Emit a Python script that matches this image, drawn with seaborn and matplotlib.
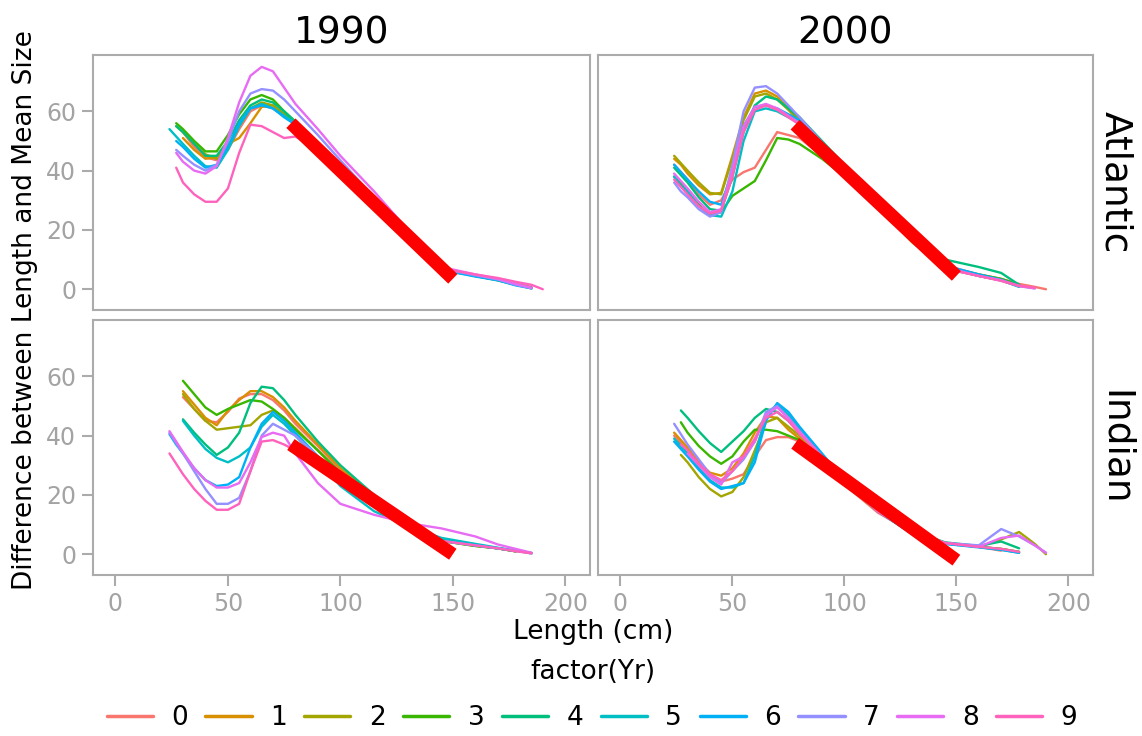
import numpy as np
import pandas as pd
import matplotlib
matplotlib.use("Agg")
import matplotlib.pyplot as plt
import seaborn as sns
from matplotlib.lines import Line2D

sns.set_theme(style="white")
plt.rcParams["font.family"] = ["DejaVu Sans"]
plt.rcParams["text.color"] = "black"
plt.rcParams["axes.labelcolor"] = "black"

N = np.nan

# ---------------- data ----------------
LENGTH = [24, 27, 30, 35, 40, 45, 50, 55, 60, 65, 70, 75, 80, 90, 100, 115, 130, 145, 160, 170, 178, 185, 190]
YEARS = ["0", "1", "2", "3", "4", "5", "6", "7", "8", "9"]
COL_LABELS = ["1990", "2000"]
ROW_LABELS = ["Atlantic", "Indian"]
PALETTE = ["#F8766D", "#D89000", "#A3A500", "#39B600", "#00BF7D",
           "#00BFC4", "#00B0F6", "#9590FF", "#E76BF3", "#FF62BC"]

ATLANTIC_1990 = [
    [N, N, 53, 48, 44.5, 43.5, 47, 54, 60, 62, 61, 58.5, 56, 49, 41.5, 30, 18.5, 7, 4.5, 3.2, 1.8, 0.8, N],
    [N, N, 51, 47, 44, 44.5, 49, 51, 56, 61.5, 62, 59, 56, 49, 41.5, 30, 18.5, 7, 4.5, 3.2, 1.8, N, N],
    [N, 55, 53, 49, 45.5, 44, 48, 55, 61, 63, 62, 59, 56, 49, 41.5, 30, 18.5, 7, 4.5, 3.2, 1.8, 0.5, N],
    [N, 56, 54, 50, 46.5, 46.5, 52, 59, 64, 65.5, 64, 60, 56.5, 49.5, 42, 30, 18.5, 7, 4.5, 3, 1.5, N, N],
    [N, 55, 53, 49, 45, 45, 50, 57, 62, 64, 63, 60, 56.5, 49.5, 41.5, 30, 18.5, 7, 4.5, 3.2, 1.5, 0.3, N],
    [54, 51.5, 49, 45, 41.5, 41, 47, 55, 61, 62.5, 61, 58.5, 56, 49, 41, 29.5, 18, 6.5, 4.5, 3.2, 1.5, 0.5, N],
    [N, 50, 48, 44, 41, 42, 48, 56, 61, 62, 61, 58, 55.5, 48.5, 41, 29.5, 18, 6.5, 4.3, 3, 1.3, 0.3, N],
    [N, 47, 45, 42, 40, 42, 50, 60, 66, 67.5, 67, 64, 60, 52, 43.5, 31, 19, 7, 4.7, 3.3, 1.5, 0.3, N],
    [N, 46, 43, 40, 39, 41.5, 51, 63, 72, 75, 73.5, 68, 62.5, 54, 45, 33, 20, 7.5, 5, 3.5, 1.8, 0.5, N],
    [N, 41, 36, 32, 29.5, 29.5, 34, 46, 55.5, 55, 53, 51, 51.5, 47, 40, 29.5, 18, 7, 5, 3.8, 2.5, 1.5, 0],
]
ATLANTIC_2000 = [
    [42, 39.5, 37, 32, 28.5, 30, 37, 39.5, 41, 47, 53, 52, 51, 45, 38, 28, 17, 8, 5, 3.5, 1.8, 0.8, 0],
    [44, 42, 39, 35, 32, 32.5, 45, 58, 66, 67, 65, 61, 57, 48.5, 40, 28.5, 16.5, 7.5, 4.5, 3, 1, N, N],
    [45, 42.5, 40, 36, 32.5, 32, 44, 57, 65, 66, 64, 60.5, 56.5, 48, 39.5, 28, 16, 7, 4.5, 3, 1, N, N],
    [38, 35.5, 33, 28.5, 25, 26, 31.5, 34, 36.5, 43.5, 51, 50.5, 49, 44, 38, 28, 17, 7.5, 5, 3.5, 1.5, N, N],
    [41, 38.5, 36, 31, 27, 26.5, 38, 53, 62, 65, 64, 61, 58, 50, 42, 30.5, 19, 10, 7.5, 5.5, 1.5, N, N],
    [38, 35, 33, 28, 25, 24.5, 33, 50, 60, 61, 60, 58, 56, 48.5, 40, 29, 17, 7.5, 4.5, 3, 0.8, N, N],
    [42, 39.5, 37, 33, 29.5, 28.5, 40, 55, 61.5, 62, 61, 59, 57, 49.5, 41.5, 30, 18, 8, 5, 3.2, 1, N, N],
    [36, 33, 31, 27, 24.5, 26, 42, 60, 68, 68.5, 66, 62, 58, 49.5, 41, 29.5, 17.5, 7.5, 4.5, 3, 1, 0.3, N],
    [39, 36.5, 34, 29.5, 26, 27, 40, 55, 61.5, 62.5, 61, 58.5, 56, 48.5, 40, 29, 17, 7, 4.5, 3, 1.2, 0.3, N],
    [37, 34.5, 32, 28, 25.5, 26.5, 38, 53, 60.5, 62, 60.5, 58, 55.5, 48, 39.5, 28.5, 16.5, 7, 4.5, 2.8, 1.1, 0.5, N],
]
INDIAN_1990 = [
    [N, N, 53, 49, 45, 44.5, 48, 52.5, 54, 54, 52, 48.5, 44, 36.5, 28.5, 19, 10, 5, 3, 2, 1, N, N],
    [N, N, 55, 50.5, 46, 43.5, 48.5, 52, 55, 55, 53, 49.5, 45, 37, 29, 19.5, 10.5, 5, 3, 2, 1, N, N],
    [N, N, 54, 49, 45, 42, 42.5, 43, 43.5, 47, 48.5, 46, 42.5, 35, 27.5, 18.5, 9.5, 4.5, 2.8, 2, 1, N, N],
    [N, N, 58.5, 54, 49.5, 47, 49, 50.5, 52, 51.5, 49, 46, 42, 35, 27.5, 18.5, 9.5, 4.5, 2.8, 2, 1, N, N],
    [N, N, 45.5, 41, 37, 33.5, 36, 41, 51, 56.5, 56, 52, 47, 38, 30, 20, 11, 5, 3, 2, 1, N, N],
    [N, N, 45, 40, 35.5, 32.5, 31, 33, 36, 43, 47, 44, 40, 32, 23, 14.5, 9.5, 5.5, 3.5, 2.2, 1.2, 0.5, N],
    [40.5, 37, 34, 29, 25, 23, 23.5, 26, 36, 44, 48, 45, 41, 33, 26, 17, 9, 4.5, 3, 2, 1.2, 0.3, N],
    [41, 37.5, 34, 28, 22, 17, 17, 19, 28, 40, 44, 42, 40, 33, 26, 17, 9, 4.5, 3, 2, 1.2, 0.3, N],
    [41.5, 38, 34.5, 29, 25, 22.5, 22.5, 24, 31, 39.5, 41, 40, 34, 24, 17, 13.3, 10.5, 8.7, 6, 3.3, 1.8, 0.5, N],
    [34, 30.5, 27, 22, 18, 15, 15, 17, 28, 38, 38.5, 37, 35, 29, 24, 17, 9, 4.5, 3, 2, 1, 0.3, N],
]
INDIAN_2000 = [
    [40, 37.5, 35, 30, 26.5, 24.5, 25.5, 27, 33, 38.5, 39.5, 39.5, 38, 31, 23.5, 14, 7.5, 3.8, 2.5, 1.2, N, N, N],
    [41, 38.5, 36, 31, 27.5, 26.5, 29, 34, 41, 46.5, 46, 42, 39, 32, 24, 14.5, 7.5, 3.8, 2.5, 1.8, 0.8, N, N],
    [N, 33.5, 31, 26, 22, 19.5, 21, 26, 35, 44.5, 46, 43, 40, 32.5, 24.5, 14.5, 7.5, 3.8, 2.5, 5, 7.5, 3.5, 0],
    [N, 44.5, 41, 36.5, 33, 30.5, 33, 38, 42, 42, 41.5, 40, 38.5, 32, 24, 14.5, 7.5, 3.8, 2.5, 1.8, 0.8, N, N],
    [N, 48.5, 46, 41.5, 37.5, 34.5, 38, 41.5, 46, 49, 48, 45, 41, 33, 25, 15, 8, 4, 2.8, 4.3, 2, N, N],
    [39, 36.5, 34, 29, 25, 22.5, 22.5, 24, 33, 47, 50.5, 47, 42, 33.5, 25, 14.5, 7, 3.5, 2.5, 1.5, 0.5, N, N],
    [38, 35.5, 33, 28.5, 24.5, 22, 23, 24, 31, 45, 51, 48, 43, 34, 25, 14.5, 7, 3.5, 2.3, 1.5, 0.5, N, N],
    [44, 40.5, 37, 32, 27, 24, 28, 32, 38, 48, 50, 46, 41, 33, 24.5, 14.5, 7.5, 3.8, 3, 8.5, 6, 3, 0.5],
    [N, N, 34, 30, 26, 23.5, 31, 33, 38, 47, 49.5, 46, 41.5, 33, 24.5, 14.5, 7.5, 3.8, 2.5, 5.5, 6.3, 3, 0.5],
    [N, 37, 35, 30.5, 27, 25, 28, 33, 39, 46, 48, 45, 40.5, 33, 24.5, 14.5, 7.5, 3.8, 2.5, 1.8, 0.8, N, N],
]

# thick red reference segment per panel
RED_X = [78, 150]
RED_Y_ATLANTIC_1990 = [56, 3.5]
RED_Y_ATLANTIC_2000 = [55.5, 4.5]
RED_Y_INDIAN_1990 = [37, 0]
RED_Y_INDIAN_2000 = [37.4, -2]

PANELS = {
    ("Atlantic", "1990"): (ATLANTIC_1990, RED_Y_ATLANTIC_1990),
    ("Atlantic", "2000"): (ATLANTIC_2000, RED_Y_ATLANTIC_2000),
    ("Indian", "1990"): (INDIAN_1990, RED_Y_INDIAN_1990),
    ("Indian", "2000"): (INDIAN_2000, RED_Y_INDIAN_2000),
}

rows = []
for (region, decade), (series, _) in PANELS.items():
    for yr, ys in zip(YEARS, series):
        for x, y in zip(LENGTH, ys):
            if not np.isnan(y):
                rows.append(dict(Region=region, Decade=decade, Yr=yr, Length=x, Diff=y))
df = pd.DataFrame(rows)

# ---------------- figure ----------------
W, H = 1142, 736
fig = plt.figure(figsize=(W / 100, H / 100), dpi=100)

col_px = [(93, 590), (598, 1093)]
row_px = [(55, 310), (320, 575)]
GREY = "#ABABAB"
TICKGREY = "#A3A3A3"

for ri, region in enumerate(ROW_LABELS):
    for ci, decade in enumerate(COL_LABELS):
        x0, x1 = col_px[ci]
        y0, y1 = row_px[ri]
        ax = fig.add_axes([x0 / W, 1 - y1 / H, (x1 - x0) / W, (y1 - y0) / H])
        sub = df[(df.Region == region) & (df.Decade == decade)]
        sns.lineplot(data=sub, x="Length", y="Diff", hue="Yr", hue_order=YEARS,
                     palette=PALETTE, estimator=None, errorbar=None,
                     linewidth=1.7, legend=False, ax=ax)
        red_y = PANELS[(region, decade)][1]
        sns.lineplot(x=RED_X, y=red_y, color="#FF0000", linewidth=9.5,
                     solid_capstyle="butt", ax=ax)
        ax.set_xlim(-10, 211)
        ax.set_ylim(-7, 79)
        ax.set_xticks([0, 50, 100, 150, 200])
        ax.set_yticks([0, 20, 40, 60])
        ax.set_xlabel("")
        ax.set_ylabel("")
        for s in ax.spines.values():
            s.set_color(GREY)
            s.set_linewidth(1.5)
        ax.tick_params(axis="both", direction="out", length=8, width=1.5,
                       color=GREY, labelcolor=TICKGREY, labelsize=17, pad=4)
        ax.tick_params(axis="x", bottom=(ri == 1), labelbottom=(ri == 1))
        ax.tick_params(axis="y", left=(ci == 0), labelleft=(ci == 0))
        ax.grid(False)
        if ri == 0:
            ax.text(0.5, 1 + 22 / (y1 - y0), decade, transform=ax.transAxes,
                    ha="center", va="center", fontsize=27, color="black")
        if ci == 1:
            ax.text(1 + 22 / (x1 - x0), 0.5, region, transform=ax.transAxes,
                    ha="center", va="center", rotation=-90, fontsize=27, color="black")

fig.text(593 / W, 1 - 632 / H, "Length (cm)", ha="center", va="center",
         fontsize=19, color="black")
fig.text(25 / W, 1 - 310 / H, "Difference between Length and Mean Size",
         ha="center", va="center", rotation=90, fontsize=19, color="black")
fig.text(593 / W, 1 - 672 / H, "factor(Yr)", ha="center", va="center",
         fontsize=19, color="black")

handles = [Line2D([0], [0], color=c, lw=2.5) for c in PALETTE]
leg = fig.legend(handles, YEARS, loc="center", bbox_to_anchor=(592 / W, 1 - 718 / H),
                 ncol=10, frameon=False, fontsize=19, handlelength=1.75,
                 handletextpad=0.7, columnspacing=0.66)
for t in leg.get_texts():
    t.set_color("black")

fig.savefig("out.png", dpi=100)
